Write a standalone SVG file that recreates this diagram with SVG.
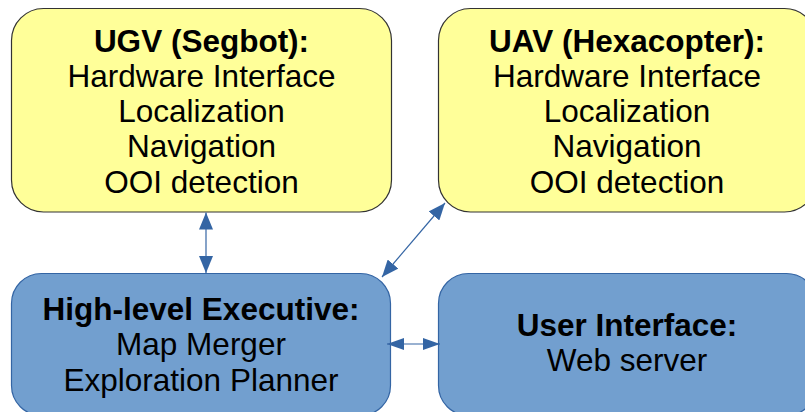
<svg xmlns="http://www.w3.org/2000/svg" width="805" height="412" viewBox="0 0 805 412">
<style>
.y{fill:#ffff99;stroke:#333333;stroke-width:1.2}
.b{fill:#729fcf;stroke:#3465a4;stroke-width:1.2}
text{font-family:"Liberation Sans",Arial,sans-serif;font-size:31.5px;fill:#000;text-anchor:middle}
.t{font-weight:bold}
.c{stroke:#3465a4;stroke-width:1.2;fill:none}
</style>
<defs>
<marker id="a" markerUnits="userSpaceOnUse" markerWidth="17" markerHeight="14" refX="17" refY="7" orient="auto-start-reverse"><path d="M0,0 L17,7 L0,14 z" fill="#3465a4"/></marker>
<marker id="s" markerUnits="userSpaceOnUse" markerWidth="17" markerHeight="12" refX="17" refY="6" orient="auto-start-reverse"><path d="M0,0 L17,6 L0,12 z" fill="#3465a4"/></marker>
</defs>
<rect width="805" height="412" fill="#ffffff"/>
<g id="ugv">
<rect class="y" x="11.5" y="8.5" width="380" height="203.5" rx="32" ry="32"/>
<text x="201.5" y="52" class="t">UGV (Segbot):</text>
<text x="201.5" y="86.5">Hardware Interface</text>
<text x="201.5" y="121.5">Localization</text>
<text x="201.5" y="157">Navigation</text>
<text x="201.5" y="192.5">OOI detection</text>
</g>
<g id="uav">
<rect class="y" x="438.5" y="8.5" width="378" height="203.5" rx="32" ry="32"/>
<text x="627" y="52" class="t">UAV (Hexacopter):</text>
<text x="627" y="86.5">Hardware Interface</text>
<text x="627" y="121.5">Localization</text>
<text x="627" y="157">Navigation</text>
<text x="627" y="192.5">OOI detection</text>
</g>
<g id="exec">
<rect class="b" x="11.5" y="273.5" width="379" height="142" rx="30" ry="30"/>
<text x="201" y="320" class="t">High-level Executive:</text>
<text x="201" y="355">Map Merger</text>
<text x="201" y="390.5">Exploration Planner</text>
</g>
<g id="ui">
<rect class="b" x="438.5" y="273.5" width="378" height="142" rx="30" ry="30"/>
<text x="627" y="336" class="t">User Interface:</text>
<text x="627" y="371">Web server</text>
</g>
<g id="connectors">
<line class="c" x1="206" y1="212.5" x2="206" y2="273" marker-start="url(#a)" marker-end="url(#a)"/>
<line class="c" x1="445" y1="203" x2="382" y2="277" marker-start="url(#a)" marker-end="url(#a)"/>
<line class="c" x1="387" y1="344" x2="440" y2="344" marker-start="url(#s)" marker-end="url(#s)"/>
</g>
</svg>
